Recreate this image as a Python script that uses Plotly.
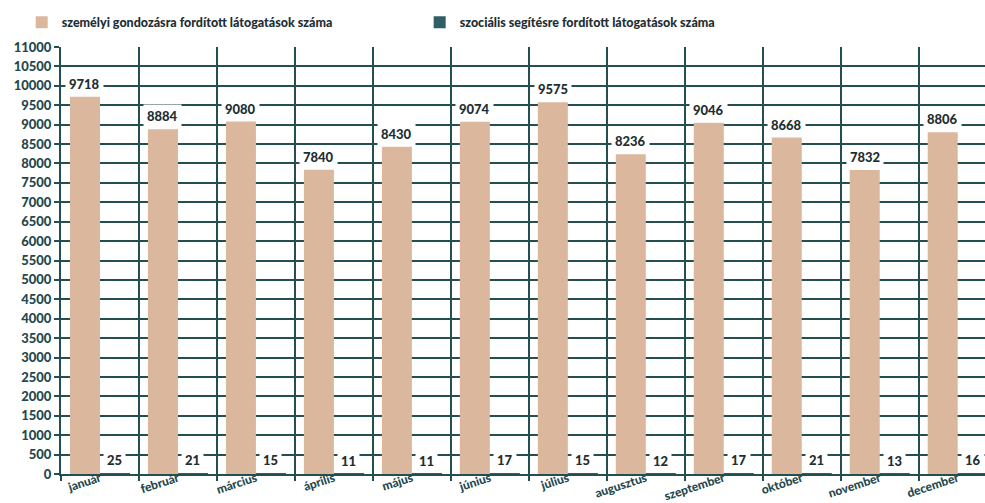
import plotly.graph_objects as go

months = ["január", "február", "március", "április", "május", "június",
          "július", "augusztus", "szeptember", "október", "november", "december"]
personal_care = [9718, 8884, 9080, 7840, 8430, 9074, 9575, 8236, 9046, 8668, 7832, 8806]
social_help = [25, 21, 15, 11, 11, 17, 15, 12, 17, 21, 13, 16]

name_personal = "személyi gondozásra fordított látogatások száma"
name_social = "szociális segítésre fordított látogatások száma"

FONT = "Comic Sans MS, Lato, sans-serif"
GRID = "#244f50"
TEXT = "#24484d"
TAN = "#dbb79e"
TEAL = "#2e5f66"

fig = go.Figure()
fig.add_trace(go.Bar(x=months, y=personal_care, name=name_personal,
                     marker=dict(color=TAN, line=dict(width=0))))
fig.add_trace(go.Bar(x=months, y=social_help, name=name_social,
                     marker=dict(color=TEAL, line=dict(width=0))))

# value labels on white boxes above each bar
for series, shift in ((personal_care, -15), (social_help, 15)):
    for m, v in zip(months, series):
        fig.add_annotation(x=m, y=v, text=str(v), showarrow=False,
                           xshift=shift, yanchor="bottom", yshift=1,
                           bgcolor="white", borderpad=3,
                           font=dict(family=FONT, size=13, color="#1e2f33",
                                     weight=900))

fig.update_layout(
    width=985, height=503,
    margin=dict(l=61, r=0, t=47, b=29, autoexpand=False),
    paper_bgcolor="white", plot_bgcolor="white",
    barmode="group", bargap=0.23, bargroupgap=0,
    font=dict(family=FONT, color=TEXT),
    showlegend=True,
    legend=dict(orientation="h", xref="container", yref="container",
                x=0.022, y=0.985, xanchor="left", yanchor="top",
                entrywidth=353, entrywidthmode="pixels",
                font=dict(family=FONT, size=12.5, color="#1e2f33", weight=900),
                bgcolor="rgba(0,0,0,0)"),
    xaxis=dict(range=[-0.5, 11.35], tickson="boundaries", showgrid=True,
               gridcolor=GRID, gridwidth=2, ticks="outside", ticklen=5,
               tickcolor=GRID, tickwidth=2, tickangle=-18, automargin=False,
               ticklabelstandoff=-9,
               showline=True, linecolor=GRID, linewidth=2,
               tickfont=dict(family=FONT, size=12, color=TEXT, weight=900)),
    yaxis=dict(range=[0, 11000], dtick=500, tickformat="d", showgrid=True,
               gridcolor=GRID, gridwidth=2, ticks="outside", ticklen=5,
               tickcolor=GRID, tickwidth=2, zeroline=False, automargin=False,
               showline=True, linecolor=GRID, linewidth=2,
               tickfont=dict(family=FONT, size=13, color=TEXT, weight=900)),
)

fig.write_html("out.html")
